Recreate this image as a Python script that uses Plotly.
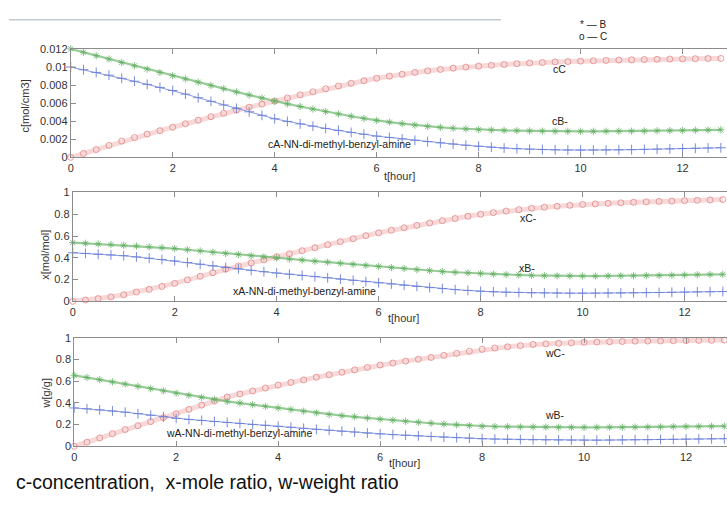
import plotly.graph_objects as go

# time grid (hours)
t = [i * 0.25 for i in range(52)]

# concentration c [mol/cm3] (x1e-3 read values, scaled below)
cA_e3 = [10.0, 9.7, 9.4, 9.1, 8.75, 8.42, 8.08, 7.74, 7.4, 7.0, 6.6, 6.2, 5.8, 5.42, 5.04, 4.65,
         4.27, 3.98, 3.7, 3.45, 3.2, 2.98, 2.76, 2.55, 2.35, 2.2, 2.04, 1.89, 1.74, 1.6, 1.47, 1.34,
         1.22, 1.12, 1.03, 0.96, 0.9, 0.86, 0.83, 0.81, 0.8, 0.8, 0.81, 0.83, 0.85, 0.88, 0.91, 0.94,
         0.97, 1.0, 1.03, 1.06]
cB_e3 = [12.0, 11.63, 11.25, 10.88, 10.5, 10.13, 9.77, 9.4, 9.04, 8.68, 8.32, 7.96, 7.6, 7.25, 6.9, 6.56,
         6.22, 5.92, 5.63, 5.34, 5.06, 4.8, 4.55, 4.31, 4.08, 3.9, 3.73, 3.57, 3.43, 3.32, 3.22, 3.14,
         3.07, 3.02, 2.98, 2.95, 2.92, 2.9, 2.89, 2.88, 2.88, 2.88, 2.89, 2.89, 2.9, 2.92, 2.94, 2.96,
         2.98, 3.0, 3.02, 3.05]
cC_e3 = [0.0, 0.42, 0.86, 1.32, 1.8, 2.19, 2.57, 2.95, 3.33, 3.72, 4.11, 4.5, 4.88, 5.22, 5.55, 5.89,
         6.22, 6.57, 6.92, 7.26, 7.59, 7.9, 8.2, 8.48, 8.75, 8.98, 9.2, 9.4, 9.58, 9.73, 9.87, 9.99,
         10.1, 10.19, 10.28, 10.37, 10.45, 10.5, 10.56, 10.6, 10.65, 10.69, 10.73, 10.77, 10.8, 10.83, 10.85, 10.88,
         10.9, 10.92, 10.94, 10.95]

# mole ratio x [mol/mol]
xA = [.446, .44, .433, .426, .419, .408, .396, .384, .371, .356, .341, .326, .311, .298, .285, .272,
      .26, .249, .238, .227, .216, .204, .193, .181, .17, .159, .148, .137, .126, .117, .108, .1,
      .092, .088, .084, .081, .078, .077, .076, .075, .075, .075, .076, .077, .078, .08, .081, .083,
      .085, .087, .088, .09]
xB = [.539, .533, .527, .521, .515, .508, .5, .493, .485, .474, .463, .451, .44, .43, .419, .409,
      .398, .388, .379, .369, .36, .35, .34, .33, .32, .31, .301, .291, .282, .274, .267, .261,
      .255, .25, .246, .242, .238, .236, .234, .233, .232, .232, .233, .234, .235, .237, .238, .24,
      .242, .244, .246, .248]
xC = [0, .012, .025, .041, .06, .085, .11, .137, .165, .197, .23, .263, .296, .325, .353, .381,
      .41, .437, .465, .492, .52, .548, .575, .603, .63, .653, .676, .698, .72, .741, .761, .781,
      .8, .815, .829, .842, .855, .864, .873, .882, .89, .895, .9, .905, .91, .914, .918, .921,
      .925, .928, .931, .935]

# weight ratio w [g/g]
wA = [.354, .346, .336, .326, .315, .301, .287, .272, .258, .248, .239, .229, .22, .211, .202, .194,
      .185, .176, .166, .157, .148, .139, .131, .122, .114, .108, .102, .096, .09, .085, .08, .075,
      .07, .067, .065, .062, .06, .059, .058, .057, .057, .057, .058, .059, .06, .061, .063, .064,
      .066, .067, .069, .07]
wB = [.655, .635, .615, .594, .574, .553, .532, .511, .49, .471, .452, .433, .414, .399, .384, .369,
      .354, .339, .324, .309, .294, .283, .272, .261, .25, .241, .231, .222, .213, .205, .198, .191,
      .185, .183, .181, .179, .178, .177, .176, .175, .175, .175, .176, .176, .177, .178, .179, .181,
      .182, .183, .185, .186]
wC = [0, .038, .077, .116, .155, .19, .228, .264, .3, .34, .38, .418, .455, .483, .511, .538,
      .565, .589, .613, .637, .66, .683, .705, .728, .75, .768, .786, .803, .82, .839, .858, .877,
      .895, .907, .918, .929, .94, .945, .95, .955, .96, .962, .965, .967, .97, .971, .972, .974,
      .975, .977, .978, .98]

x_ticks = [0, 2, 4, 6, 8, 10, 12]
c_ticks = [0, 0.002, 0.004, 0.006, 0.008, 0.01, 0.012]
c_ticktext = ["0", "0.002", "0.004", "0.006", "0.008", "0.01", "0.012"]
r_ticks = [0, 0.2, 0.4, 0.6, 0.8, 1]
r_ticktext = ["0", "0.2", "0.4", "0.6", "0.8", "1"]

cA = [v * 1e-3 for v in cA_e3]
cB = [v * 1e-3 for v in cB_e3]
cC = [v * 1e-3 for v in cC_e3]

W, H = 727, 506
BLUE = "#6b7fd8"
GREEN = "#62b062"
RED = "#e58282"

fig = go.Figure()

def add_series(y, axis_id, kind):
    xa = "x" if axis_id == 1 else f"x{axis_id}"
    ya = "y" if axis_id == 1 else f"y{axis_id}"
    if kind == "A":
        mk = dict(symbol="cross-thin", size=7, color=BLUE, line=dict(color=BLUE, width=0.9))
        ln = dict(color="rgba(107,127,216,0.8)", width=1)
    elif kind == "B":
        mk = dict(symbol="asterisk", size=6, color=GREEN, line=dict(color=GREEN, width=0.8))
        ln = dict(color="rgba(98,176,98,0.65)", width=2.2)
    else:
        mk = dict(symbol="circle-open", size=6, color=RED, line=dict(color=RED, width=0.8))
        ln = dict(color="rgba(229,130,130,0.3)", width=5)
    fig.add_trace(go.Scatter(x=t, y=y, xaxis=xa, yaxis=ya, mode="lines+markers",
                             marker=mk, line=ln, cliponaxis=False, hoverinfo="skip"))

for ax, (a, b, c) in enumerate([(cA, cB, cC), (xA, xB, xC), (wA, wB, wC)], start=1):
    add_series(c, ax, "C")
    add_series(b, ax, "B")
    add_series(a, ax, "A")

AX_COL = "#8c8c8c"
TICK_FONT = dict(family="Liberation Sans, Arial, sans-serif", size=11, color="#333333")

def ydom(px_bottom, px_top):
    return [1 - px_bottom / H, 1 - px_top / H]

x_orig = [68, 70, 71.5]
px_per_unit = 51.2
ydoms = [ydom(155, 44), ydom(302.5, 191), ydom(451, 340)]
yranges = [[0, 0.012], [0, 1], [0, 1]]
ytv = [(c_ticks, c_ticktext), (r_ticks, r_ticktext), (r_ticks, r_ticktext)]

layout = dict(width=W, height=H, margin=dict(l=0, r=0, t=0, b=0),
              paper_bgcolor="white", plot_bgcolor="rgba(0,0,0,0)", showlegend=False)
for i in range(3):
    sfx = "" if i == 0 else str(i + 1)
    xo = x_orig[i]
    layout["xaxis" + sfx] = dict(
        domain=[xo / W, 1], range=[0, (W - xo) / px_per_unit], anchor="y" + sfx,
        tickvals=x_ticks, ticktext=[str(v) for v in x_ticks], ticks="inside", ticklen=5,
        tickcolor=AX_COL, showline=True, linecolor=AX_COL, linewidth=1, mirror="ticks",
        showgrid=False, zeroline=False, tickfont=TICK_FONT)
    layout["yaxis" + sfx] = dict(
        domain=ydoms[i], range=yranges[i], anchor="x" + sfx,
        tickvals=ytv[i][0], ticktext=ytv[i][1], ticks="inside", ticklen=5,
        tickcolor=AX_COL, showline=True, linecolor=AX_COL, linewidth=1, mirror=False,
        showgrid=False, zeroline=False, tickfont=TICK_FONT)
fig.update_layout(**layout)

def px_ann(text, xpx, ypx, size=10.5, xanchor="left", angle=0, family="Liberation Sans, Arial, sans-serif",
           color="#222222"):
    fig.add_annotation(text=text, x=xpx / W, y=1 - ypx / H, xref="paper", yref="paper",
                       xanchor=xanchor, yanchor="middle", showarrow=False, textangle=angle,
                       font=dict(family=family, size=size, color=color))

# axis titles
px_ann("c[mol/cm3]", 22, 102, size=11, xanchor="center", angle=-90, color="#333333")
px_ann("x[mol/mol]", 42, 255, size=11, xanchor="center", angle=-90, color="#333333")
px_ann("w[g/g]", 43, 397, size=11, xanchor="center", angle=-90, color="#333333")
for ypx, xpx in [(174, 398), (320, 402), (468, 403)]:
    px_ann("t[hour]", xpx, ypx, size=11, xanchor="center", color="#333333")

# curve labels
px_ann("cC", 550, 65)
px_ann("cB-", 549, 118)
px_ann("cA-NN-di-methyl-benzyl-amine", 264, 141)
px_ann("xC-", 517, 217)
px_ann("xB-", 516, 268)
px_ann("xA-NN-di-methyl-benzyl-amine", 229, 292)
px_ann("wC-", 542, 355)
px_ann("wB-", 542, 419)
px_ann("wA-NN-di-methyl-benzyl-amine", 162, 437)

# legend-like note
px_ann("* — B", 577, 19, size=10)
px_ann("o — C", 576, 31, size=10)

# caption
px_ann("c-concentration,  x-mole ratio, w-weight ratio", 11, 488, size=19.5,
       family="Liberation Sans, Arial, sans-serif", color="#111111")

# faint scan line at top
fig.add_shape(type="line", xref="paper", yref="paper", x0=6 / W, x1=500 / W,
              y0=1 - 14 / H, y1=1 - 14 / H, line=dict(color="#c3c9d3", width=1.5))

fig.write_html("out.html", config={"displayModeBar": False, "staticPlot": True},
               post_script="document.body.style.margin='0px';")
